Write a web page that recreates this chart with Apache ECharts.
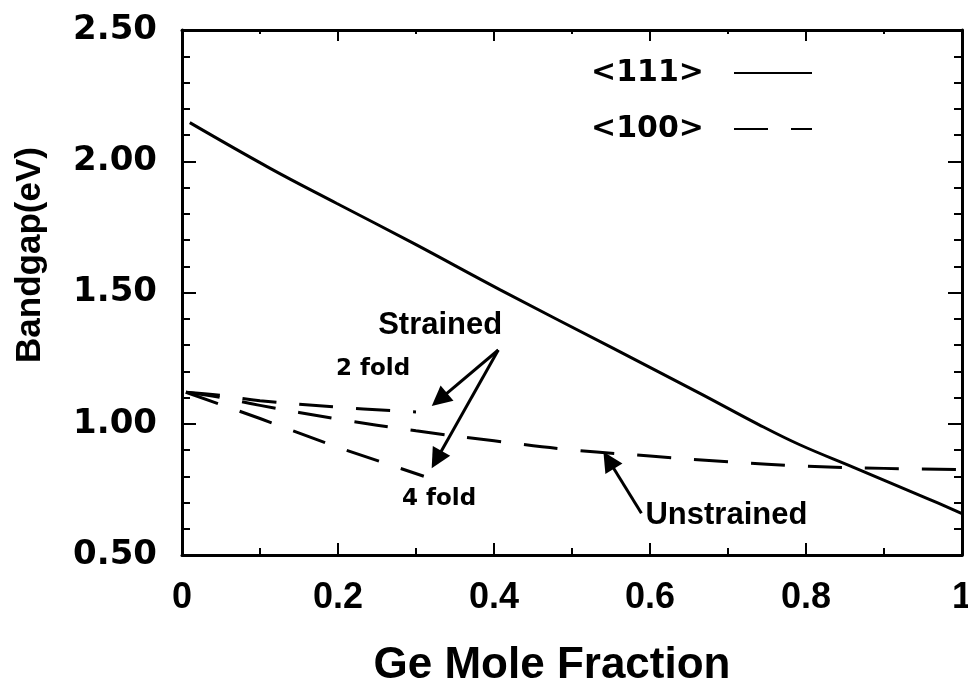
<!DOCTYPE html>
<html>
<head>
<meta charset="utf-8">
<script src="https://cdn.jsdelivr.net/npm/echarts@6/dist/echarts.min.js"></script>
<style>
  html, body { margin: 0; padding: 0; background: #ffffff; }
  #chart { width: 968px; height: 691px; }
</style>
</head>
<body>
<div id="chart"></div>
<script>
// Bandgap of Si(1-x)Ge(x) versus Ge mole fraction
const fraction111 = [0.01, 0.113, 0.198, 0.297, 0.408, 0.553, 0.664, 0.74, 0.792, 0.861, 0.955, 1.0];
const gap111 = [2.147, 1.973, 1.840, 1.687, 1.51, 1.287, 1.116, 0.996, 0.920, 0.834, 0.716, 0.658];

const fractionUnstrained = [0.005, 0.05, 0.1, 0.2, 0.3, 0.4, 0.5, 0.6, 0.7, 0.8, 0.9, 1.0];
const gapUnstrained = [1.12, 1.10, 1.07, 1.018, 0.973, 0.935, 0.90, 0.877, 0.855, 0.838, 0.83, 0.825];

const fractionTwoFold = [0.005, 0.05, 0.1, 0.2, 0.3];
const gapTwoFold = [1.12, 1.108, 1.088, 1.063, 1.045];

const fractionFourFold = [0.005, 0.1, 0.2, 0.31];
const gapFourFold = [1.12, 1.02, 0.91, 0.80];

// annotation texts and where they sit (data units)
const noteText = ['Strained', '2 fold', '4 fold', 'Unstrained'];
const noteX = [0.331, 0.245, 0.3295, 0.698];
const noteY = [1.376, 1.209, 0.713, 0.652];
const noteFont = ['Liberation Sans', 'DejaVu Sans', 'DejaVu Sans', 'Liberation Sans'];
const noteSize = [31, 23, 23, 31];

// arrows: tail -> head (data units)
const arrowTail = [[0.4055, 1.281], [0.4055, 1.281], [0.589, 0.659]];
const arrowHead = [[0.330, 1.092], [0.3264, 0.8634], [0.547, 0.861]];

const zip = (xs, ys) => xs.map((x, i) => [x, ys[i]]);
const dash = [34, 23];
const black = '#000000';

const chart = echarts.init(document.getElementById('chart'), null, { renderer: 'canvas' });

const tickStyle = { color: black, width: 2 };
const axisLine = { show: true, onZero: false, lineStyle: { color: black, width: 3 } };

const option = {
  backgroundColor: '#ffffff',
  animation: false,
  grid: { left: 182, right: 6, top: 30, bottom: 136, containLabel: false, outerBoundsMode: 'none' },
  legend: {
    data: ['<111>', '<100>'],
    orient: 'vertical',
    right: 155,
    top: 58,
    align: 'right',
    padding: 0,
    itemWidth: 78,
    itemHeight: 14,
    itemGap: 26,
    itemStyle: { opacity: 0 },
    formatter: n => '{t|' + n + '}',
    textStyle: {
      rich: {
        t: { fontFamily: 'DejaVu Sans', fontWeight: 'bold', fontSize: 30, color: black, padding: [0, 25, 0, 0], lineHeight: 30 }
      }
    }
  },
  xAxis: [
    {
      type: 'value', min: 0, max: 1, interval: 0.2, position: 'bottom',
      axisLine: axisLine,
      axisTick: { show: true, inside: true, length: 12, lineStyle: tickStyle },
      minorTick: { show: true, splitNumber: 2, length: 7, lineStyle: tickStyle },
      splitLine: { show: false },
      axisLabel: { fontFamily: 'Liberation Sans', fontWeight: 'bold', fontSize: 36, color: black, margin: 25 },
      name: 'Ge Mole Fraction',
      nameLocation: 'middle',
      nameGap: 89,
      nameTextStyle: { fontFamily: 'Liberation Sans', fontWeight: 'bold', fontSize: 44, color: black, padding: [0, 40, 0, 0] }
    },
    {
      type: 'value', min: 0, max: 1, interval: 0.2, position: 'top',
      axisLine: axisLine,
      axisTick: { show: true, inside: true, length: 11, lineStyle: tickStyle },
      minorTick: { show: true, splitNumber: 2, length: 4, lineStyle: tickStyle },
      splitLine: { show: false },
      axisLabel: { show: false }
    }
  ],
  yAxis: [
    {
      type: 'value', min: 0.5, max: 2.5, interval: 0.5, position: 'left',
      axisLine: axisLine,
      axisTick: { show: true, inside: true, length: 14, lineStyle: tickStyle },
      minorTick: { show: true, splitNumber: 5, length: 8, lineStyle: tickStyle },
      splitLine: { show: false },
      axisLabel: {
        fontFamily: 'DejaVu Sans', fontWeight: 'bold', fontSize: 34, color: black, margin: 25,
        padding: [0, 0, 8, 0],
        formatter: v => v.toFixed(2)
      },
      name: 'Bandgap(eV)',
      nameLocation: 'middle',
      nameGap: 134,
      nameRotate: 90,
      nameTextStyle: { fontFamily: 'Liberation Sans', fontWeight: 'bold', fontSize: 35, color: black, padding: [0, 0, 0, 75] }
    },
    {
      type: 'value', min: 0.5, max: 2.5, interval: 0.5, position: 'right',
      axisLine: axisLine,
      axisTick: { show: true, inside: true, length: 14, lineStyle: tickStyle },
      minorTick: { show: true, splitNumber: 5, length: 8, lineStyle: tickStyle },
      splitLine: { show: false },
      axisLabel: { show: false }
    }
  ],
  series: [
    {
      name: '<111>', type: 'line', xAxisIndex: 0, yAxisIndex: 0,
      data: zip(fraction111, gap111),
      symbol: 'none', showSymbol: false,
      smooth: 0.4,
      lineStyle: { color: black, width: 3, type: 'solid' },
      itemStyle: { color: black }
    },
    {
      name: '<100>', type: 'line', xAxisIndex: 0, yAxisIndex: 0,
      data: zip(fractionUnstrained, gapUnstrained),
      symbol: 'none', showSymbol: false,
      smooth: 0.4,
      lineStyle: { color: black, width: 3, type: dash },
      itemStyle: { color: black }
    },
    {
      name: 'strained 2 fold', type: 'line', xAxisIndex: 0, yAxisIndex: 0,
      data: zip(fractionTwoFold, gapTwoFold),
      symbol: 'none', showSymbol: false,
      smooth: 0.4,
      lineStyle: { color: black, width: 3, type: dash },
      itemStyle: { color: black }
    },
    {
      name: 'strained 4 fold', type: 'line', xAxisIndex: 0, yAxisIndex: 0,
      data: zip(fractionFourFold, gapFourFold),
      symbol: 'none', showSymbol: false,
      lineStyle: { color: black, width: 3, type: dash },
      itemStyle: { color: black },
      markLine: {
        silent: true,
        symbol: ['none', 'triangle'],
        symbolSize: 20,
        label: { show: false },
        lineStyle: { color: black, width: 3, type: 'solid' },
        data: arrowTail.map((p, i) => [{ coord: p }, { coord: arrowHead[i] }])
      }
    }
  ]
};

chart.setOption(option);

// place the annotation texts at their data positions
chart.setOption({
  graphic: noteText.map((t, i) => {
    const p = chart.convertToPixel({ gridIndex: 0 }, [noteX[i], noteY[i]]);
    return {
      type: 'text', x: p[0], y: p[1], silent: true,
      style: {
        text: t, fill: black, align: 'center', verticalAlign: 'middle',
        font: 'bold ' + noteSize[i] + 'px "' + noteFont[i] + '"'
      }
    };
  })
});
</script>
</body>
</html>
